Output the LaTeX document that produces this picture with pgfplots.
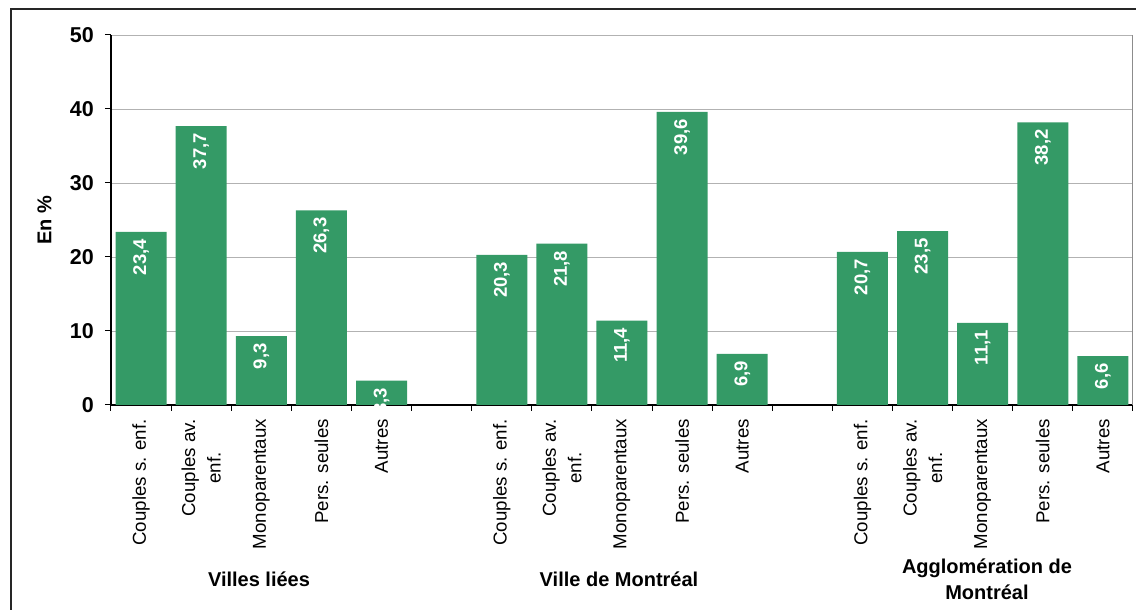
\documentclass[border=0pt]{standalone}
\usepackage{fontspec}
\setmainfont{Liberation Sans}
\usepackage{pgfplots}
\usepackage{pgfplotstable}
\pgfplotsset{compat=1.18}

\definecolor{barGreen}{RGB}{52,154,102}
\definecolor{gridGray}{RGB}{178,178,178}
\definecolor{boxGray}{RGB}{140,140,140}

% x = slot (5 and 11 are the empty gaps between the groups), y = percent
\pgfplotstableread{
x  y
0  23.4
1  37.7
2  9.3
3  26.3
4  3.3
6  20.3
7  21.8
8  11.4
9  39.6
10 6.9
12 20.7
13 23.5
14 11.1
15 38.2
16 6.6
}\menages

\begin{document}
\begin{tikzpicture}[x=1pt,y=1pt]
\useasboundingbox (0,0) rectangle (1136,610);
% outer frame of the figure
\draw[line width=1.2pt, black!85] (11,-20) -- (11,601) -- (1160,601);

\begin{axis}[
	at={(111pt,205pt)}, anchor=south west,
	scale only axis,
	width=1022pt, height=370pt,
	xmin=-0.5, xmax=16.5,
	ymin=0, ymax=50,
	axis x line*=bottom,
	axis y line*=left,
	axis line style={line width=1.1pt, black, -},
	ytick={0,10,...,50},
	ymajorgrids,
	grid style={gridGray, line width=0.9pt},
	tick align=outside,
	major tick length=6pt,
	minor tick length=6pt,
	tick style={line width=1pt, black},
	xtick={0,1,2,3,4,6,7,8,9,10,12,13,14,15,16},
	x tick style={draw=none},
	minor xtick={-0.5,0.5,...,16.5},
	minor x tick style={draw=black, line width=1pt},
	xticklabels={
		Couples s. enf., {Couples av.\\enf.}, Monoparentaux, Pers. seules, Autres,
		Couples s. enf., {Couples av.\\enf.}, Monoparentaux, Pers. seules, Autres,
		Couples s. enf., {Couples av.\\enf.}, Monoparentaux, Pers. seules, Autres},
	xticklabel style={rotate=90, anchor=east, align=center,
		font=\fontsize{18.7}{25.5}\selectfont, inner xsep=8pt, inner ysep=0pt},
	yticklabel style={font=\bfseries\fontsize{21.5}{24}\selectfont, inner xsep=0pt, xshift=-11pt},
	/pgf/number format/assume math mode=true,
	ylabel={En \%},
	ylabel style={font=\bfseries\fontsize{20}{24}\selectfont,
		at={(axis description cs:-0.065,0.5)}, anchor=center},
]
\addplot[
	ybar, bar width=51pt,
	fill=barGreen, draw=none,
	nodes near coords={\pgfmathprintnumber[fixed,fixed zerofill,precision=1,use comma]{\pgfplotspointmeta}},
	every node near coord/.append style={font=\bfseries\fontsize{18.5}{20}\selectfont,
		color=white, rotate=90, anchor=east, inner xsep=7pt, inner ysep=0pt},
] table[x=x, y=y] {\menages};

\draw[boxGray, line width=1pt] (rel axis cs:1,0) -- (rel axis cs:1,1);
\end{axis}

% group names under the categories
\begin{scope}[every node/.style={font=\bfseries\fontsize{20}{26}\selectfont, align=center}]
\node at (259,31) {Villes liées};
\node at (619,31) {Ville de Montréal};
\node at (987,31) {Agglomération de\\Montréal};
\end{scope}
\end{tikzpicture}
\end{document}
